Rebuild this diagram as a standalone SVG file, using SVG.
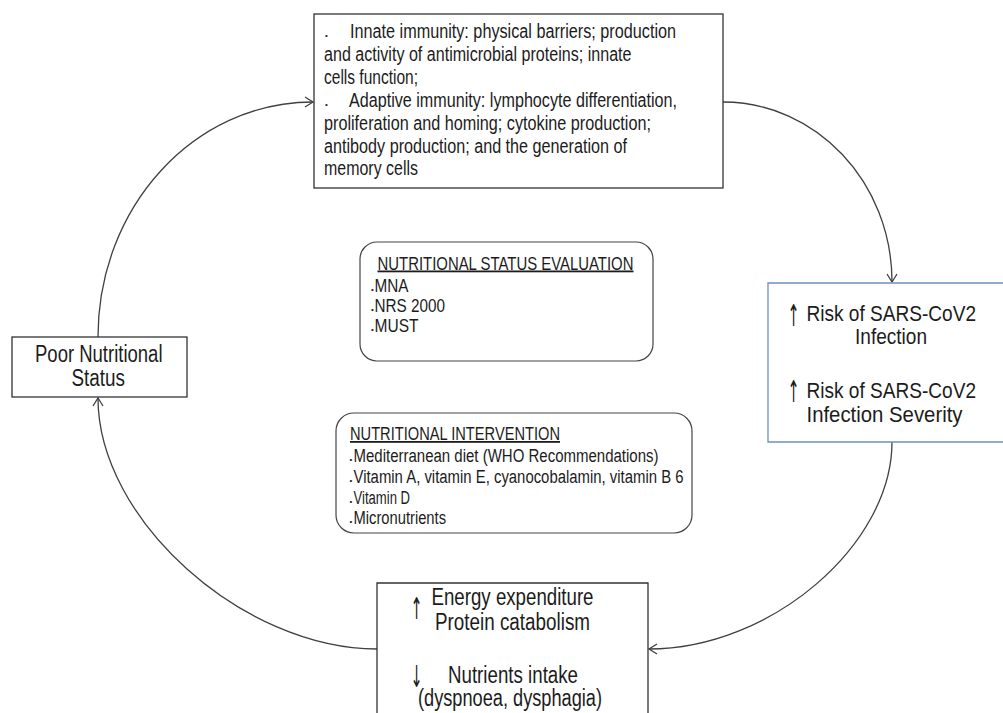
<svg xmlns="http://www.w3.org/2000/svg" width="1003" height="713" viewBox="0 0 1003 713">
<defs>
<style>
.t{font-family:"Liberation Sans Narrow","Liberation Sans",Arial,sans-serif;fill:#1c1c1c}
.s19{font-size:19.5px}
.s17{font-size:18px}
.s22{font-size:23px}
.s21{font-size:21.5px}
.u{text-decoration:underline}
.b{font-family:"Liberation Sans",Arial,sans-serif;font-size:8px;fill:#1c1c1c}
.box{fill:#fff;stroke:#333;stroke-width:1.3}
.rbox{fill:#fff;stroke:#444;stroke-width:1.2}
.blue{fill:#fff;stroke:#6b8fc6;stroke-width:1.3}
.con{fill:none;stroke:#404040;stroke-width:1.3}
.ar{font-family:"DejaVu Sans",sans-serif;font-size:30px;fill:#1c1c1c}
</style>
<marker id="arr" viewBox="-10 -7 12 14" refX="0" refY="0" markerWidth="12" markerHeight="14" markerUnits="userSpaceOnUse" orient="auto">
<path d="M-8,-5 L0,0 L-8,5" fill="none" stroke="#404040" stroke-width="1.3"/>
</marker>
</defs>
<rect width="1003" height="713" fill="#fff"/>

<g id="connectors">
<path class="con" d="M98,337 C98,207 194,102 313,102" marker-end="url(#arr)"/>
<path class="con" d="M723,102 C816,102 892,182 892,282" marker-end="url(#arr)"/>
<path class="con" d="M892,442 C892,545 771,649 649,649" marker-end="url(#arr)"/>
<path class="con" d="M377,649 C243,649 98,520 98,398" marker-end="url(#arr)"/>
</g>

<g id="immunity">
<rect class="box" x="314" y="14" width="409" height="174"/>
<text class="b" x="325" y="38">•</text>
<text class="t s19" x="350" y="38" textLength="326" lengthAdjust="spacingAndGlyphs">Innate  immunity:  physical barriers; production</text>
<text class="t s19" x="324" y="61" textLength="307.5" lengthAdjust="spacingAndGlyphs">and activity of antimicrobial proteins; innate</text>
<text class="t s19" x="324" y="84" textLength="94" lengthAdjust="spacingAndGlyphs">cells function;</text>
<text class="b" x="325" y="107">•</text>
<text class="t s19" x="349" y="107" textLength="328" lengthAdjust="spacingAndGlyphs">Adaptive immunity:  lymphocyte  differentiation,</text>
<text class="t s19" x="324" y="130" textLength="327" lengthAdjust="spacingAndGlyphs">proliferation and homing;  cytokine production;</text>
<text class="t s19" x="324" y="153" textLength="303" lengthAdjust="spacingAndGlyphs">antibody production;  and the generation of</text>
<text class="t s19" x="324" y="175" textLength="94" lengthAdjust="spacingAndGlyphs">memory cells</text>
</g>

<g id="risk">
<path class="blue" d="M1003,283 H768 V442 H1003"/>
<text class="ar" x="787.5" y="326" textLength="12" lengthAdjust="spacingAndGlyphs">↑</text>
<text class="t s21" x="806.5" y="321" textLength="169.5" lengthAdjust="spacingAndGlyphs">Risk of SARS-CoV2</text>
<text class="t s21" x="855" y="344" textLength="72" lengthAdjust="spacingAndGlyphs">Infection</text>
<text class="ar" x="787.5" y="402" textLength="12" lengthAdjust="spacingAndGlyphs">↑</text>
<text class="t s21" x="806.5" y="398" textLength="169.5" lengthAdjust="spacingAndGlyphs">Risk of SARS-CoV2</text>
<text class="t s21" x="806.5" y="422" textLength="156" lengthAdjust="spacingAndGlyphs">Infection Severity</text>
</g>

<g id="energy">
<path class="box" d="M377,713 V583 H648 V713"/>
<text class="ar" x="410.5" y="619" textLength="12" lengthAdjust="spacingAndGlyphs">↑</text>
<text class="t s22" x="431.5" y="605" textLength="162" lengthAdjust="spacingAndGlyphs">Energy expenditure</text>
<text class="t s22" x="435" y="629.5" textLength="155" lengthAdjust="spacingAndGlyphs">Protein catabolism</text>
<text class="ar" x="410.5" y="687" textLength="12" lengthAdjust="spacingAndGlyphs">↓</text>
<text class="t s22" x="448" y="683" textLength="130" lengthAdjust="spacingAndGlyphs">Nutrients intake</text>
<text class="t s22" x="418" y="706" textLength="184" lengthAdjust="spacingAndGlyphs">(dyspnoea, dysphagia)</text>
</g>

<g id="poor-status">
<rect class="box" x="12" y="337" width="175" height="60"/>
<text class="t s22" x="35" y="361.5" textLength="127.5" lengthAdjust="spacingAndGlyphs">Poor Nutritional</text>
<text class="t s22" x="71.5" y="386" textLength="53.5" lengthAdjust="spacingAndGlyphs">Status</text>
</g>

<g id="evaluation">
<rect class="rbox" x="360" y="242" width="293" height="119" rx="17"/>
<text class="t s17 u" x="377.5" y="269.5" textLength="256" lengthAdjust="spacingAndGlyphs">NUTRITIONAL  STATUS EVALUATION</text>
<text class="b" x="371" y="291.5">•</text>
<text class="t s17" x="374.5" y="291.5" textLength="34" lengthAdjust="spacingAndGlyphs">MNA</text>
<text class="b" x="371" y="311.5">•</text>
<text class="t s17" x="374.5" y="311.5" textLength="70.5" lengthAdjust="spacingAndGlyphs">NRS 2000</text>
<text class="b" x="371" y="331.5">•</text>
<text class="t s17" x="374.5" y="331.5" textLength="44" lengthAdjust="spacingAndGlyphs">MUST</text>
</g>

<g id="intervention">
<rect class="rbox" x="336" y="413" width="356" height="120" rx="18"/>
<text class="t s17 u" x="350" y="440" textLength="210" lengthAdjust="spacingAndGlyphs">NUTRITIONAL  INTERVENTION</text>
<text class="b" x="349.5" y="462">•</text>
<text class="t s17" x="353.5" y="462" textLength="305" lengthAdjust="spacingAndGlyphs">Mediterranean  diet (WHO Recommendations)</text>
<text class="b" x="349.5" y="483">•</text>
<text class="t s17" x="353.5" y="483" textLength="330" lengthAdjust="spacingAndGlyphs">Vitamin A, vitamin E, cyanocobalamin, vitamin B 6</text>
<text class="b" x="349.5" y="503.5">•</text>
<text class="t s17" x="353.5" y="503.5" textLength="56.5" lengthAdjust="spacingAndGlyphs">Vitamin D</text>
<text class="b" x="349.5" y="524">•</text>
<text class="t s17" x="353.5" y="524" textLength="92.5" lengthAdjust="spacingAndGlyphs">Micronutrients</text>
</g>
</svg>
